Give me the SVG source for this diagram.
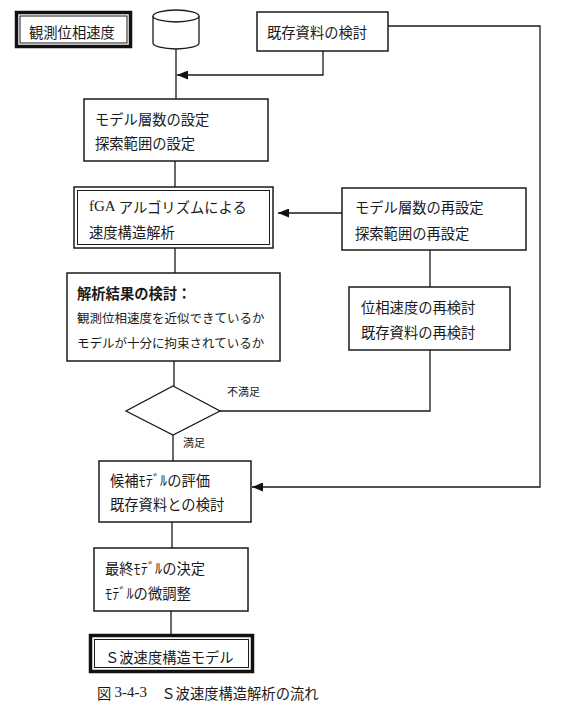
<svg xmlns="http://www.w3.org/2000/svg" width="569" height="719" viewBox="0 0 569 719">
<style>
.box{fill:#fff;stroke:#1a1a1a;stroke-width:1.5}
.thin{fill:none;stroke:#1a1a1a;stroke-width:1}
.thick{fill:#fff;stroke:#111;stroke-width:3.5}
.ln{fill:none;stroke:#1a1a1a;stroke-width:1.3}
.t{font-family:"Noto Sans CJK JP","Noto Sans",sans-serif;font-size:14.3px;fill:#1a1a1a;dominant-baseline:central}
.s{font-family:"Noto Sans CJK JP","Noto Sans",sans-serif;font-size:12.5px;fill:#1a1a1a;dominant-baseline:central}
.lbl{font-family:"Noto Sans CJK JP","Noto Sans",sans-serif;font-size:11px;fill:#1a1a1a;dominant-baseline:central}
</style>
<defs>
<marker id="ah" markerUnits="userSpaceOnUse" markerWidth="11" markerHeight="9" refX="11" refY="4.5" orient="auto">
<path d="M0,0 L11,4.5 L0,9 z" fill="#111"/>
</marker>
</defs>
<rect width="569" height="719" fill="#fff"/>
<g id="connectors">
<line class="ln" x1="176" y1="49" x2="176" y2="99"/>
<polyline class="ln" points="323,51 323,75 177,75" marker-end="url(#ah)"/>
<polyline class="ln" points="388,26 540,26 540,487 252,487" marker-end="url(#ah)"/>
<line class="ln" x1="175" y1="161" x2="175" y2="187"/>
<line class="ln" x1="342" y1="213" x2="278" y2="213" marker-end="url(#ah)"/>
<line class="ln" x1="430" y1="250" x2="430" y2="287"/>
<line class="ln" x1="175" y1="248" x2="175" y2="273"/>
<line class="ln" x1="174" y1="361" x2="174" y2="386"/>
<polyline class="ln" points="220,411 430,411 430,350"/>
<line class="ln" x1="173" y1="435" x2="173" y2="461"/>
<line class="ln" x1="172" y1="522" x2="172" y2="548"/>
<line class="ln" x1="171" y1="611" x2="171" y2="634"/>
</g>
<g id="n-obs">
<rect class="thick" x="16.5" y="12.5" width="114" height="34"/>
<rect class="thin" x="20" y="16" width="107" height="27"/>
<text class="t" x="29" y="31">観測位相速度</text>
</g>
<g id="n-db">
<path d="M153,16 L153,43 A23,6 0 0 0 199,43 L199,16" fill="#fff" stroke="#1a1a1a" stroke-width="1.3"/>
<ellipse cx="176" cy="16" rx="23" ry="6" fill="#fff" stroke="#1a1a1a" stroke-width="1.3"/>
</g>
<g id="n-exist">
<rect class="box" x="257" y="12" width="131" height="39"/>
<text class="t" x="267" y="31">既存資料の検討</text>
</g>
<g id="n-set">
<rect class="box" x="84" y="99" width="184" height="62"/>
<text class="t" x="95" y="118">モデル層数の設定</text>
<text class="t" x="95" y="142">探索範囲の設定</text>
</g>
<g id="n-fga">
<rect class="box" x="74" y="187" width="199" height="61"/>
<rect class="thin" x="77.5" y="190.5" width="192" height="54"/>
<text class="t" x="89" y="206"><tspan font-family="'Liberation Serif',serif" font-size="15">fGA</tspan> アルゴリズムによる</text>
<text class="t" x="89" y="231">速度構造解析</text>
</g>
<g id="n-reset">
<rect class="box" x="342" y="188" width="184" height="62"/>
<text class="t" x="355" y="206">モデル層数の再設定</text>
<text class="t" x="355" y="232">探索範囲の再設定</text>
</g>
<g id="n-recheck">
<rect class="box" x="349" y="287" width="161" height="63"/>
<text class="t" x="361" y="306">位相速度の再検討</text>
<text class="t" x="361" y="331">既存資料の再検討</text>
</g>
<g id="n-eval">
<rect class="box" x="67" y="273" width="213" height="88"/>
<text class="t" x="77" y="292" font-weight="bold" font-size="14.5">解析結果の検討：</text>
<text class="s" x="77" y="317">観測位相速度を近似できているか</text>
<text class="s" x="77" y="342">モデルが十分に拘束されているか</text>
</g>
<g id="n-dec">
<polygon points="173,386 220,411 173,435 126,411" fill="#fff" stroke="#1a1a1a" stroke-width="1.3"/>
<text class="lbl" x="227" y="391">不満足</text>
<text class="lbl" x="183" y="442">満足</text>
</g>
<g id="n-cand">
<rect class="box" x="99" y="461" width="152" height="61"/>
<text class="t" x="110" y="479">候補ﾓﾃﾞﾙの評価</text>
<text class="t" x="110" y="503">既存資料との検討</text>
</g>
<g id="n-final">
<rect class="box" x="94" y="548" width="154" height="63"/>
<text class="t" x="105" y="567">最終ﾓﾃﾞﾙの決定</text>
<text class="t" x="105" y="592">ﾓﾃﾞﾙの微調整</text>
</g>
<g id="n-out">
<rect class="thick" x="90.5" y="635.5" width="162" height="36"/>
<rect class="thin" x="94.5" y="639.5" width="154" height="28"/>
<text class="t" x="105" y="656">Ｓ波速度構造モデル</text>
</g>
<text class="t" x="97" y="692" font-size="14">図 <tspan font-family="'Liberation Serif',serif" font-size="15">3-4-3</tspan>　Ｓ波速度構造解析の流れ</text>
</svg>
